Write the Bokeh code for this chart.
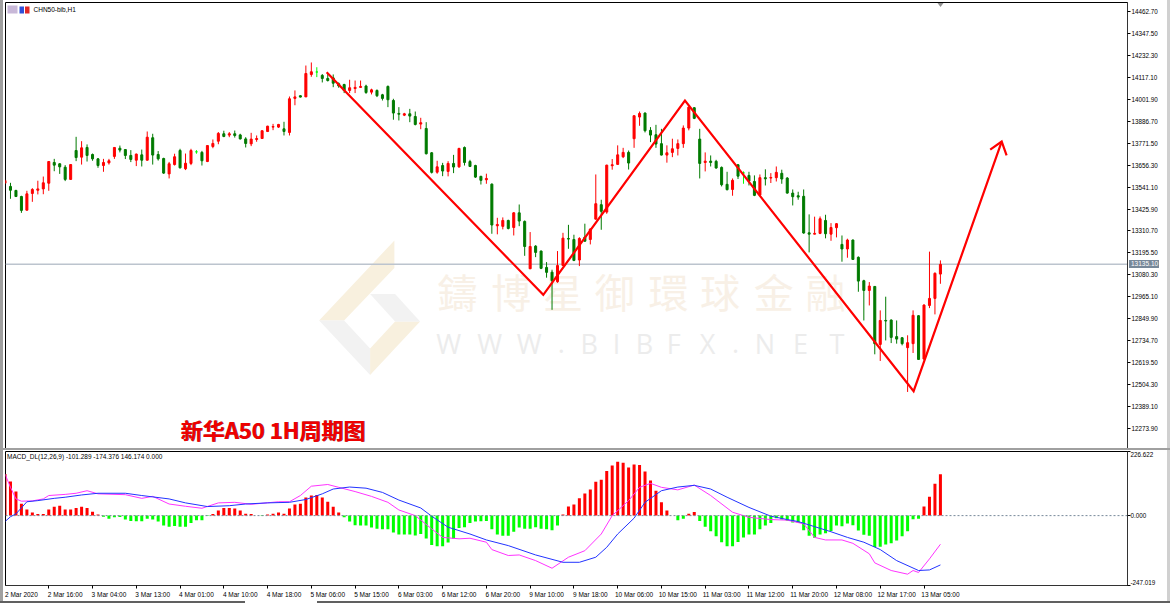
from bokeh.embed import file_html
from bokeh.resources import INLINE
from bokeh.plotting import figure
from bokeh.layouts import column
from bokeh.models import (Range1d, FixedTicker, LinearAxis, Label, Span, BoxAnnotation, Div,
                          PolyAnnotation, NumeralTickFormatter)

# ---------- candle values (price) ----------
opens = [13562,13545,13524,13492,13420,13508,13525,13532,13562,13671,
 13664,13646,13582,13734,13699,13750,13713,13690,13655,13669,
 13703,13746,13739,13708,13683,13711,13683,13801,13713,13692,
 13611,13660,13734,13638,13666,13727,13724,13676,13755,13783,
 13822,13815,13822,13816,13795,13769,13792,13797,13834,13857,
 13857,13848,13829,14008,14022,14016,14134,14147,14129,
 14113,14116,14085,14081,14050,14060,14066,14073,14041,14050,14027,14071,13997,13929,13920,13927,13913,13873,13850,13722,
 13620,13655,13624,13666,13648,13750,13676,13655,13598,13580,13557,13338,13335,13366,13329,13406,13361,13112,13231,13205,
 13119,13094,13044,13129,13271,13266,13158,13278,13266,13373,13449,13410,13654,13661,13701,13724,13796,13910,13931,
 13840,13817,13770,13710,13724,13745,13770,13852,13959,13794,13671,13678,13677,13645,13556,13529,13659,13616,13603,13571,
 13500,13591,13589,13591,13614,13589,13510,13496,13493,13301,13294,13298,13366,13294,13328,13240,13216,13263,13172,13049,
 12998,13019,12714,12840,12842,12755,12749,12697,12718,12865,12637,12919,12956,13084]
closes = [13576,13525,13492,13419,13506,13529,13532,13564,13676,13657,
 13648,13582,13660,13697,13748,13708,13690,13655,13671,13680,
 13750,13736,13708,13687,13715,13683,13804,13710,13690,13615,
 13664,13701,13643,13667,13734,13727,13680,13760,13771,13824,
 13808,13822,13813,13795,13771,13794,13797,13838,13862,13860,
 13871,13834,14006,14016,14015,14139,14148,14147,14113,
 14102,14088,14074,14050,14064,14066,14071,14039,14053,14022,14008,14001,13931,13925,13927,13915,13871,13880,13717,13619,
 13648,13626,13666,13647,13745,13671,13650,13594,13577,13587,13342,13345,13366,13324,13406,13363,13229,13229,13198,13114,
 13093,13049,13129,13273,13268,13156,13271,13257,13321,13454,13414,13657,13659,13711,13724,13668,13917,13929,13838,
 13815,13768,13710,13722,13743,13770,13852,13962,13903,13666,13678,13671,13642,13554,13528,13577,13599,13616,13573,13498,
 13591,13585,13592,13619,13584,13510,13491,13489,13300,13294,13298,13375,13296,13329,13349,13216,13263,13161,13047,12998,
 13021,12718,12840,12837,12751,12742,12718,12723,12867,12635,12921,12956,13088,13135]
highs = [13580,13564,13527,13496,13522,13536,13575,13597,13676,13690,
 13667,13657,13662,13806,13783,13766,13718,13694,13690,13690,
 13750,13760,13741,13736,13718,13739,13834,13822,13731,13696,
 13674,13717,13743,13718,13743,13736,13732,13760,13792,13831,
 13838,13831,13839,13822,13804,13827,13813,13839,13864,13874,
 13874,13885,14018,14050,14025,14181,14197,14172,14136,
 14141,14134,14092,14085,14106,14102,14102,14080,14059,14055,14032,14076,14006,13962,13932,13953,13939,13906,13883,13726,
 13680,13669,13678,13711,13748,13755,13685,13659,13601,13612,13561,13380,13382,13370,13410,13450,13366,13305,13236,13208,
 13147,13107,13205,13301,13343,13291,13278,13349,13324,13608,13475,13659,13689,13761,13748,13734,13917,13939,13934,
 13857,13869,13848,13761,13796,13792,13866,13966,13962,13848,13724,13708,13685,13650,13622,13587,13661,13624,13622,13603,
 13608,13635,13615,13650,13633,13594,13529,13517,13529,13398,13386,13387,13396,13352,13352,13287,13270,13266,13177,13054,
 13042,13021,12893,12965,12846,12840,12753,12762,12893,12868,12925,13202,13093,13156]
lows = [13559,13480,13489,13406,13419,13464,13503,13504,13522,13625,
 13611,13573,13580,13678,13660,13676,13680,13643,13622,13660,
 13690,13724,13689,13673,13652,13650,13681,13660,13681,13611,
 13587,13655,13639,13631,13657,13717,13655,13673,13746,13767,
 13804,13804,13802,13792,13750,13757,13780,13795,13831,13841,
 13853,13813,13813,13972,14013,14015,14122,14120,14092,
 14097,14067,14064,14036,14036,14036,14064,14032,14029,14015,13997,13962,13896,13892,13915,13883,13866,13846,13713,13613,
 13612,13599,13598,13615,13643,13655,13647,13590,13555,13559,13296,13293,13319,13319,13287,13336,13180,13110,13173,13110,
 13065,12896,13038,13126,13217,13152,13126,13254,13240,13371,13317,13401,13633,13659,13694,13634,13748,13864,13829,
 13778,13748,13708,13670,13699,13708,13748,13840,13899,13587,13624,13650,13638,13545,13524,13496,13584,13559,13550,13494,
 13496,13550,13563,13571,13559,13507,13445,13475,13296,13198,13293,13294,13272,13259,13277,13149,13170,13158,12991,12840,
 12919,12662,12627,12735,12721,12718,12709,12464,12669,12634,12634,12905,12872,13033]

# ---------- MACD values ----------
histogram = [147,121,85,42,22,11,6,6,22,31,35,22,22,27,31,27,14,4,-4,-11,
 -6,-5,-14,-19,-20,-20,-11,-14,-21,-35,-39,-37,-39,-39,-26,-16,-16,-1,6,18,
 27,27,25,18,7,6,0,-1,4,7,11,7,25,39,42,64,71,73,64,49,
 31,11,-6,-21,-34,-35,-35,-42,-46,-48,-48,-60,-67,-67,-67,-70,-65,-81,-104,-108,
 -108,-95,-82,-44,-41,-26,-21,-20,-19,-48,-67,-71,-71,-57,-42,-46,-46,-41,-46,-48,
 -52,-35,4,32,39,61,78,92,120,127,158,177,190,187,170,181,179,156,124,88,
 47,18,0,-16,-11,7,13,-19,-39,-55,-73,-94,-108,-108,-93,-77,-67,-67,-48,-35,
 -26,-9,-14,-18,-24,-26,-52,-71,-78,-67,-62,-54,-35,-38,-28,-34,-53,-68,-71,-111,
 -110,-102,-98,-88,-73,-55,-13,-11,32,67,113,146.174]
signal_bars = [0,1,2,4,6,9,11,14,17,22,25,30,33,37,41,44,48,52,55,58,60,63,66,69,72,
 76,78,81,85,88,92,97,102,105,108,110,112,115,117,120,123,126,129,132,136,140,143,
 145,148,151,154,157,160,163,167,169,171]
signal_line = [-21,-4,6,49,53,61,65,73,79,79,71,59,45,32,35,41,45,47,57,77,94,101,97,82,55,
 27,-2,-41,-65,-86,-106,-139,-165,-165,-147,-112,-65,-9,47,88,101,107,94,65,29,-2,-14,
 -21,-39,-57,-77,-94,-120,-159,-194,-192,-174.376]
macd_bars = [0,1,2,3,5,7,8,11,13,15,17,22,25,27,30,33,36,39,42,45,50,52,54,56,59,61,64,67,70,72,
 75,78,80,83,85,88,89,92,94,97,100,103,106,109,111,114,116,118,120,123,126,129,133,136,140,143,146,
 148,150,153,155,158,159,162,165,166,167,169,171]
macd_line = [147,100,59,51,52,59,71,75,79,88,77,74,61,68,41,33,26,45,47,40,49,49,71,104,110,100,85,68,47,20,
 0,-47,-77,-82,-80,-94,-120,-141,-139,-159,-186,-147,-124,-65,0,53,100,114,100,91,108,71,12,-6,-14,-16,-29,
 -77,-86,-86,-98,-135,-167,-194,-207,-194,-201,-153,-101.289]

# ---------- hand-drawn trend ----------
trend_bars = [58.8,98.4,124.3,166.1,182.2]
trend_prices = [14146,12975,13997,12468,13781]
arrow_bars = [180.1,182.2,183.1]
arrow_prices = [13739,13781,13708]

# ---------- axis labels ----------
price_ticks = [14462.7,14347.5,14232.3,14117.1,14001.9,13886.7,13771.5,13656.3,13541.1,13425.9,
               13310.7,13195.5,13080.3,12965.1,12849.9,12734.7,12619.5,12504.3,12389.1,12273.9]
time_labels = ["2 Mar 2020","2 Mar 16:00","3 Mar 04:00","3 Mar 13:00","4 Mar 01:00","4 Mar 10:00",
               "4 Mar 18:00","5 Mar 06:00","5 Mar 15:00","6 Mar 03:00","6 Mar 12:00","6 Mar 20:00",
               "9 Mar 10:00","9 Mar 18:00","10 Mar 06:00","10 Mar 15:00","11 Mar 03:00","11 Mar 12:00",
               "11 Mar 20:00","12 Mar 08:00","12 Mar 17:00","13 Mar 05:00"]
last_price = 13135.10

watermark_cn = "鑄博星御環球金融"
watermark_en = "WWW.BIBFX.NET"

n = len(opens)
assert n == len(closes) == len(highs) == len(lows) == len(histogram) == 172
assert len(signal_bars) == len(signal_line) and len(macd_bars) == len(macd_line)

bars = list(range(n))
UP, DOWN, DOJI = "#ff0000", "#007a00", "#00ff00"
colors = [DOJI if c == o else (UP if c > o else DOWN) for o, c in zip(opens, closes)]
TICK_FONT = "Liberation Sans"
x_range = Range1d(0.09, 205.2)


def canvas_label(fig, x, y, text, size, color, align="left", font=TICK_FONT, style="normal", **kw):
    fig.add_layout(Label(x=x, y=y, x_units="canvas", y_units="canvas", text=text,
                         text_font=font, text_font_size=size, text_color=color,
                         text_align=align, text_baseline="middle", text_font_style=style, **kw))


def canvas_box(fig, l, r, t, b, color):
    fig.add_layout(BoxAnnotation(left=l, right=r, top=t, bottom=b, left_units="canvas",
                                 right_units="canvas", top_units="canvas", bottom_units="canvas",
                                 fill_color=color, fill_alpha=1, line_alpha=0, level="overlay"))


def canvas_poly(fig, xs, ys, color, level="underlay"):
    fig.add_layout(PolyAnnotation(xs=xs, ys=ys, xs_units="canvas", ys_units="canvas",
                                  fill_color=color, fill_alpha=1, line_alpha=0, level=level))


def placed(left, top):
    return {"position": "absolute", "left": f"{left}px", "top": f"{top}px"}


def chrome_bar(left, top, width, height, color):
    s = placed(left, top)
    s["background-color"] = color
    return Div(text="", width=width, height=height, margin=0, styles=s)


# ---------- price panel ----------
p = figure(width=1170, height=450, output_backend="svg", toolbar_location=None,
           x_range=x_range, y_range=Range1d(12166.5, 14512.5),
           x_axis_location=None, y_axis_location="right",
           min_border_left=5, min_border_right=43, min_border_top=2, min_border_bottom=2,
           background_fill_color="#ffffff", border_fill_color="#ffffff",
           outline_line_color="#000000")
p.grid.visible = False
ax = p.yaxis[0]
ax.ticker = FixedTicker(ticks=price_ticks)
ax.formatter = NumeralTickFormatter(format="0.00")
ax.major_tick_in = 0
ax.major_tick_out = 3
ax.minor_tick_line_color = None
ax.axis_line_color = "#333333"
ax.major_label_standoff = 1
ax.major_label_text_font = TICK_FONT
ax.major_label_text_font_size = "6.3px"
ax.major_label_text_color = "#000000"

# watermark
canvas_poly(p, [393.9,318.6,343.6,393.9], [240,320,320,267.5], "#f8f0de")
canvas_poly(p, [318.6,343.6,369.6,369.6], [320,320,347.9,374.6], "#f2f2f2")
canvas_poly(p, [369.6,394.6,419.6,369.6], [347.9,321,321,374.6], "#f8f0de")
canvas_poly(p, [369.6,394.6,419.6,394.6], [293.6,293.6,321,321], "#f2f2f2")
for ch, x in zip(watermark_cn, [457.1,510.7,562.5,614.3,667.9,719.6,773.2,825]):
    canvas_label(p, x, 290.5, ch, "40px", "#f8f0e6", "center", "Noto Sans CJK TC", level="underlay")
for ch, x in zip(watermark_en, [448.2,489.3,528.6,560.7,588.6,616.1,643.9,673.2,707.1,735,764.3,800,836.4]):
    canvas_label(p, x, 342.5, ch, "27px", "#ececec", "center", "Open Sans", level="underlay")

p.add_layout(Span(location=last_price, dimension="width", line_color="#bcc4ce",
                  line_width=1.5, level="underlay"))

p.segment(bars, highs, bars, lows, color=colors, line_width=1)
p.vbar(bars, width=0.37, top=[max(a, b) for a, b in zip(opens, closes)],
       bottom=[min(a, b) for a, b in zip(opens, closes)],
       fill_color=colors, line_color=colors, line_width=1)

p.line(trend_bars, trend_prices, color="#ff0000", line_width=2.2, line_join="miter")
p.line(arrow_bars, arrow_prices, color="#ff0000", line_width=2.2, line_join="miter")

canvas_label(p, 33, 8.5, "CHN50-bib,H1", "6.5px", "#000000")
canvas_label(p, 180.7, 428.7, "新华A50 1H周期图", "22px", "#7a2030", font="Noto Sans CJK SC", style="bold")
canvas_label(p, 180, 428, "新华A50 1H周期图", "22px", "#ee0000", font="Noto Sans CJK SC", style="bold")

# window icons
canvas_box(p, 7, 17, 13, 5, "#c8b8d8")
canvas_box(p, 19, 23.5, 13, 6, "#3050d8")
canvas_box(p, 24.5, 29, 13, 6, "#e02828")
canvas_poly(p, [937,943,940], [2.5,2.5,6.5], "#909090", level="overlay")

# ---------- last-price tag (sits outside the chart frame) ----------
tag_style = placed(1129, 260)
tag_style.update({"background-color": "#778899", "color": "#ffffff", "font-family": TICK_FONT,
                  "font-size": "6.5px", "line-height": "8px", "white-space": "nowrap",
                  "text-indent": "2px"})
tag = Div(text=f"{last_price:.2f}", width=30, height=8, margin=0, styles=tag_style)

# ---------- MACD panel ----------
q = figure(width=1170, height=153, output_backend="svg", toolbar_location=None,
           x_range=x_range, y_range=Range1d(-247.019, 226.622),
           x_axis_location=None, y_axis_location=None,
           min_border_left=5, min_border_right=43, min_border_top=1, min_border_bottom=18,
           background_fill_color="#ffffff", border_fill_color="#ffffff",
           outline_line_color="#000000")
q.grid.visible = False

time_ticks = [i * 8 for i in range(len(time_labels))]
tick_axis = LinearAxis(ticker=FixedTicker(ticks=time_ticks), major_label_text_font_size="0px",
                       major_label_standoff=0, major_tick_in=0, major_tick_out=3,
                       minor_tick_line_color=None, axis_line_color="#333333",
                       major_label_text_color=None)
label_axis = LinearAxis(ticker=FixedTicker(ticks=[t + 3 for t in time_ticks]),
                        major_label_overrides={t + 3: s for t, s in zip(time_ticks, time_labels)},
                        major_tick_line_color=None, minor_tick_line_color=None, axis_line_color=None,
                        major_label_standoff=-4, major_label_text_font=TICK_FONT,
                        major_label_text_font_size="6.5px", major_label_text_color="#000000")
q.add_layout(tick_axis, "below")
q.add_layout(label_axis, "below")

value_ticks = [226.622, 0, -247.019]
value_axis = LinearAxis(ticker=FixedTicker(ticks=value_ticks), major_label_text_font_size="0px",
                        major_label_standoff=0, major_tick_in=0, major_tick_out=3,
                        minor_tick_line_color=None, axis_line_color="#333333",
                        major_label_text_color=None)
value_labels = LinearAxis(ticker=FixedTicker(ticks=[216, 0, -236]),
                          major_label_overrides={216: "226.622", 0: "0.000", -236: "-247.019"},
                          major_tick_line_color=None, minor_tick_line_color=None, axis_line_color=None,
                          major_label_standoff=-6, major_label_text_font=TICK_FONT,
                          major_label_text_font_size="6.3px", major_label_text_color="#000000")
q.add_layout(value_axis, "right")
q.add_layout(value_labels, "right")

hist_colors = ["#ff0000" if v >= 0 else "#00ff00" for v in histogram]
q.vbar(bars, width=0.55, top=histogram, bottom=0, fill_color=hist_colors, line_color=None)
q.add_layout(Span(location=0, dimension="width", line_color="#778899", line_width=1, line_dash="2 2"))
q.line(macd_bars, macd_line, color="#ff33ff", line_width=1)
q.line(signal_bars, signal_line, color="#2233ff", line_width=1)

canvas_label(q, 6.5, 6, "MACD_DL(12,26,9) -101.289 -174.376 146.174 0.000", "6.5px", "#000000")

# window chrome round the panes
bars_chrome = [chrome_bar(0, 0, 3, 603, "#a0a0a0"),
               chrome_bar(1167, 0, 3, 603, "#d0d0d0"),
               chrome_bar(0, 448, 1170, 2, "#a0a0a0"),
               chrome_bar(0, 601, 245, 2, "#606060"),
               chrome_bar(317, 601, 853, 2, "#606060")]

layout = column(p, q, tag, *bars_chrome, spacing=0,
                styles={"position": "absolute", "left": "0px", "top": "0px"})
open("out.html", "w").write(file_html(layout, INLINE))
